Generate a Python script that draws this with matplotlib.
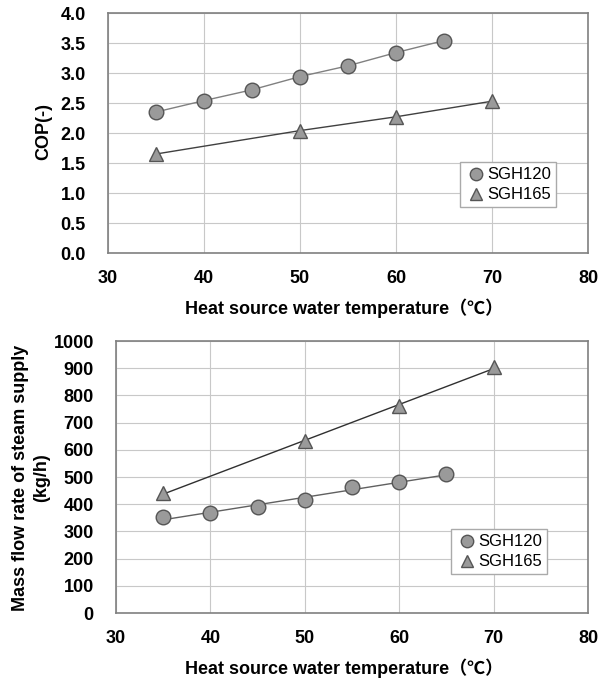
import numpy as np
import matplotlib.pyplot as plt

plt.rcParams['font.family'] = ['Liberation Sans', 'Noto Sans CJK JP', 'DejaVu Sans']
plt.rcParams['font.weight'] = 'bold'

# COP data
t120 = [35, 40, 45, 50, 55, 60, 65]
cop120 = [2.35, 2.54, 2.72, 2.94, 3.12, 3.34, 3.54]
t165 = [35, 50, 60, 70]
cop165 = [1.65, 2.04, 2.27, 2.53]

# steam mass flow data (kg/h)
flow120 = [352, 369, 389, 415, 462, 480, 511]
flow165 = [440, 632, 762, 903]

xlab = 'Heat source water temperature（℃）'
mk = dict(markerfacecolor='#9a9a9a', markeredgecolor='#555555', markeredgewidth=1.0, markersize=10.5)

W, H = 598, 679
fig = plt.figure(figsize=(W/100, H/100), dpi=100)
ax1 = fig.add_axes([108/W, 1-253/H, 480/W, 240/H])
ax2 = fig.add_axes([116/W, 1-613/H, 472/W, 272/H])


def style(ax):
    ax.set_xlim(30, 80)
    ax.set_xticks(range(30, 81, 10))
    ax.grid(True, color='#c8c8c8', lw=0.8)
    ax.set_axisbelow(True)
    for s in ax.spines.values():
        s.set_color('#808080')
        s.set_linewidth(1.2)
    ax.tick_params(length=0, labelsize=13)
    ax.tick_params(axis='y', pad=16)
    ax.tick_params(axis='x', pad=12)
    for lb in ax.get_xticklabels() + ax.get_yticklabels():
        lb.set_fontweight('bold')


def legend(ax, anchor):
    leg = ax.legend(loc='upper left', bbox_to_anchor=anchor, fontsize=12,
                    handletextpad=0.0, borderpad=0.3, labelspacing=0.3, handlelength=1.3,
                    fancybox=False, framealpha=1, edgecolor='#aaaaaa', markerscale=0.85)
    for tx in leg.get_texts():
        tx.set_fontweight('normal')


# top: COP
ax1.plot(t120, cop120, color='#808080', lw=1.0, zorder=2)
ax1.plot(t165, cop165, color='#404040', lw=1.0, zorder=2)
ax1.plot(t120, cop120, 'o', ls='none', label='SGH120', zorder=3, **mk)
ax1.plot(t165, cop165, '^', ls='none', label='SGH165', zorder=3, **mk)
ax1.set_ylim(0, 4)
yt = np.arange(0, 4.01, 0.5)
ax1.set_yticks(yt)
ax1.set_yticklabels([f'{v:.1f}' for v in yt])
style(ax1)
legend(ax1, (344/480, 1-141/240))

# bottom: mass flow rate
f120 = np.polyfit(t120, flow120, 1)
f165 = np.polyfit(t165, flow165, 1)
ax2.plot([t120[0], t120[-1]], np.polyval(f120, [t120[0], t120[-1]]), color='#606060', lw=1.0, zorder=2)
ax2.plot([t165[0], t165[-1]], np.polyval(f165, [t165[0], t165[-1]]), color='#303030', lw=1.0, zorder=2)
ax2.plot(t120, flow120, 'o', ls='none', label='SGH120', zorder=3, **mk)
ax2.plot(t165, flow165, '^', ls='none', label='SGH165', zorder=3, **mk)
ax2.set_ylim(0, 1000)
ax2.set_yticks(range(0, 1001, 100))
style(ax2)
legend(ax2, (327/472, 1-180/272))

# axis titles
fig.text(344/W, 1-308/H, xlab, ha='center', va='center', fontsize=13, fontweight='bold')
fig.text(344/W, 1-668/H, xlab, ha='center', va='center', fontsize=13, fontweight='bold')
fig.text(44/W, 1-132/H, 'COP(-)', ha='center', va='center', rotation=90, fontsize=13, fontweight='bold')
fig.text(31/W, 1-478/H, 'Mass flow rate of steam supply\n(kg/h)', ha='center', va='center',
         rotation=90, fontsize=13, fontweight='bold', linespacing=1.3)

fig.savefig('out.png', dpi=100)
